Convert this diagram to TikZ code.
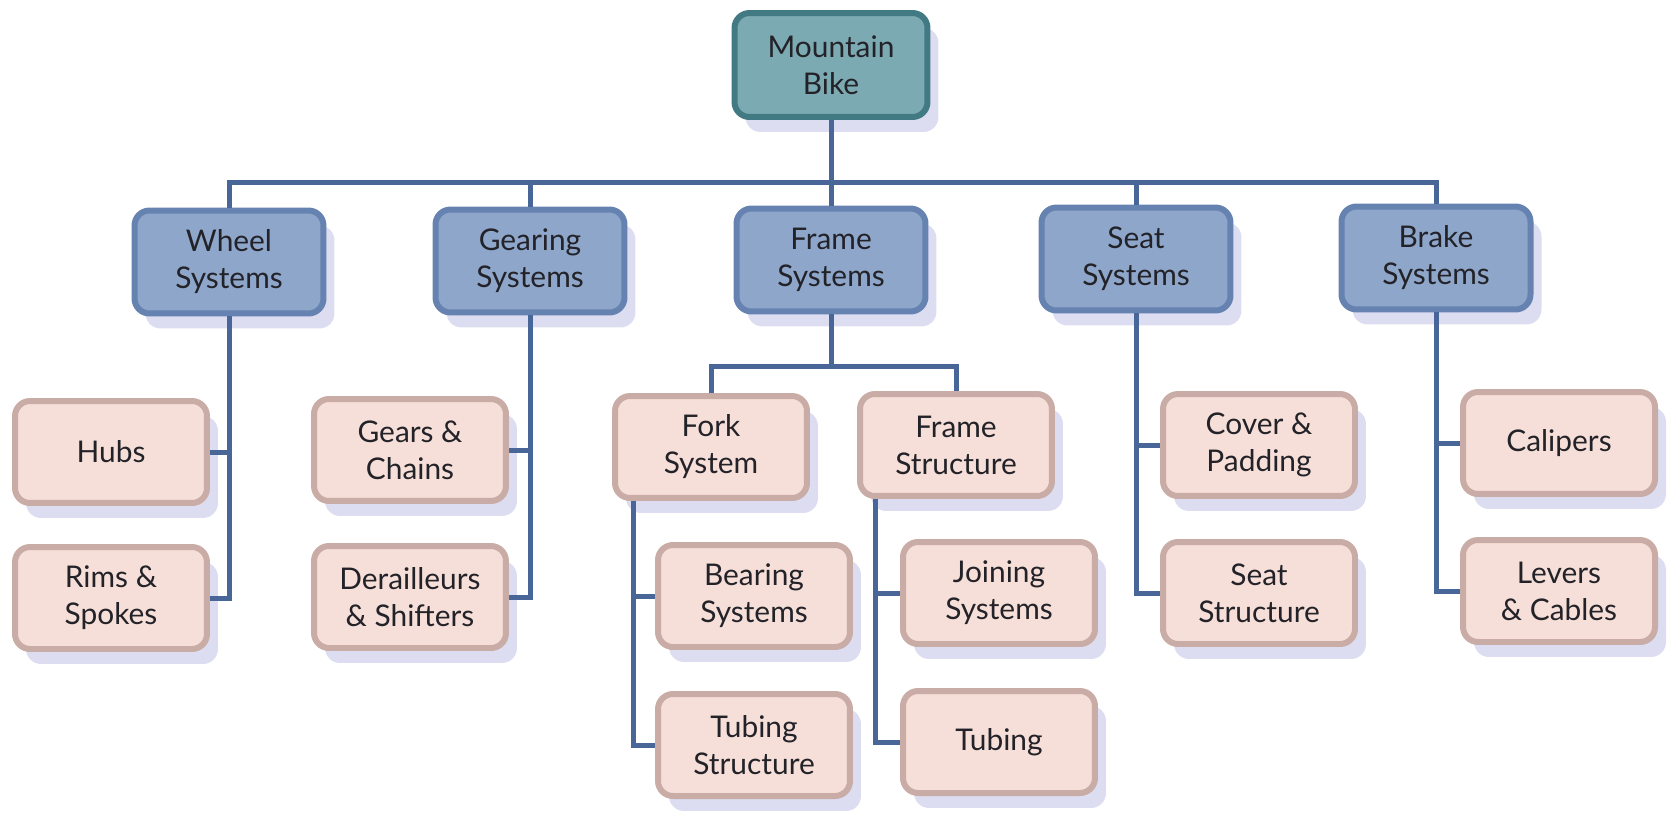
\documentclass[tikz,border=0pt]{standalone}
\usepackage{fontspec}
\setmainfont{Lato}
\usetikzlibrary{calc, shadows}

\definecolor{rootfill}{RGB}{124,170,178}
\definecolor{rootline}{RGB}{66,122,132}
\definecolor{sysfill}{RGB}{142,166,202}
\definecolor{sysline}{RGB}{102,130,176}
\definecolor{partfill}{RGB}{246,223,216}
\definecolor{partline}{RGB}{202,172,166}
\definecolor{connline}{RGB}{72,102,152}
\definecolor{shade}{RGB}{196,198,232}
\definecolor{ink}{RGB}{34,34,40}

\begin{document}
\begin{tikzpicture}[
    x=0.02cm, y=-0.02cm,
    every node/.style={font=\fontsize{17}{21}\selectfont, text=ink},
    shd/.style={drop shadow={shadow xshift=0.22cm, shadow yshift=-0.3cm,
                fill=shade, opacity=0.6}},
    rootbox/.style={rectangle, rounded corners=0.3cm, draw=rootline, fill=rootfill,
                line width=0.12cm, minimum width=3.86cm, minimum height=2.08cm,
                align=center, shd},
    sysbox/.style={rectangle, rounded corners=0.3cm, draw=sysline, fill=sysfill,
                line width=0.12cm, minimum width=3.78cm, minimum height=2.06cm,
                align=center, shd},
    partbox/.style={rectangle, rounded corners=0.3cm, draw=partline, fill=partfill,
                line width=0.12cm, minimum width=3.84cm, minimum height=2.04cm,
                align=center, shd},
    conn/.style={line width=0.1cm, connline}
  ]
  \useasboundingbox (0,0) rectangle (1673,825);

  \coordinate (bus) at (831,182);
  \coordinate (fbus) at (831,366);

  \node[rootbox] (root) at (831,65) {Mountain\\Bike};

  \node[sysbox] (wheel) at (229,262)  {Wheel\\Systems};
  \node[sysbox] (gear)  at (530,261)  {Gearing\\Systems};
  \node[sysbox] (frame) at (831,260)  {Frame\\Systems};
  \node[sysbox] (seat)  at (1136,259) {Seat\\Systems};
  \node[sysbox] (brake) at (1436,258) {Brake\\Systems};

  \node[partbox] (hubs)   at (111,452) {Hubs};
  \node[partbox] (rims)   at (111,598) {Rims \&\\Spokes};
  \node[partbox] (gears)  at (410,450) {Gears \&\\Chains};
  \node[partbox] (derail) at (410,597) {Derailleurs\\\& Shifters};

  \node[partbox] (fork)    at (711,447) {Fork\\System};
  \node[partbox] (fstruct) at (956,445) {Frame\\Structure};
  \node[partbox] (bearing) at (754,596) {Bearing\\Systems};
  \node[partbox] (tubestr) at (754,745) {Tubing\\Structure};
  \node[partbox] (joining) at (999,593) {Joining\\Systems};
  \node[partbox] (tubing)  at (999,742) {Tubing};

  \node[partbox] (cover)    at (1259,445) {Cover \&\\Padding};
  \node[partbox] (seatstr)  at (1259,593) {Seat\\Structure};
  \node[partbox] (calipers) at (1559,443) {Calipers};
  \node[partbox] (levers)   at (1559,591) {Levers\\\& Cables};

  % top level bus
  \draw[conn] (root.south) -- (frame.north);
  \draw[conn] (wheel.north) |- (bus) -| (brake.north);
  \draw[conn] (gear.north) -- (gear.north |- bus);
  \draw[conn] (seat.north) -- (seat.north |- bus);

  % wheel and gearing
  \draw[conn] (wheel.south) |- (rims.east);
  \draw[conn] (wheel.south |- hubs.east) -- (hubs.east);
  \draw[conn] (gear.south) |- (derail.east);
  \draw[conn] (gear.south |- gears.east) -- (gears.east);

  % frame
  \draw[conn] (frame.south) -- (fbus);
  \draw[conn] (fork.north) |- (fbus) -| (fstruct.north);
  \coordinate (forkdrop) at ($(fork.south west)+(21,0)$);
  \coordinate (fsdrop) at ($(fstruct.south west)+(18,0)$);
  \draw[conn] (forkdrop) |- (tubestr.west);
  \draw[conn] (forkdrop |- bearing.west) -- (bearing.west);
  \draw[conn] (fsdrop) |- (tubing.west);
  \draw[conn] (fsdrop |- joining.west) -- (joining.west);

  % seat and brake
  \draw[conn] (seat.south) |- (seatstr.west);
  \draw[conn] (seat.south |- cover.west) -- (cover.west);
  \draw[conn] (brake.south) |- (levers.west);
  \draw[conn] (brake.south |- calipers.west) -- (calipers.west);
\end{tikzpicture}
\end{document}
